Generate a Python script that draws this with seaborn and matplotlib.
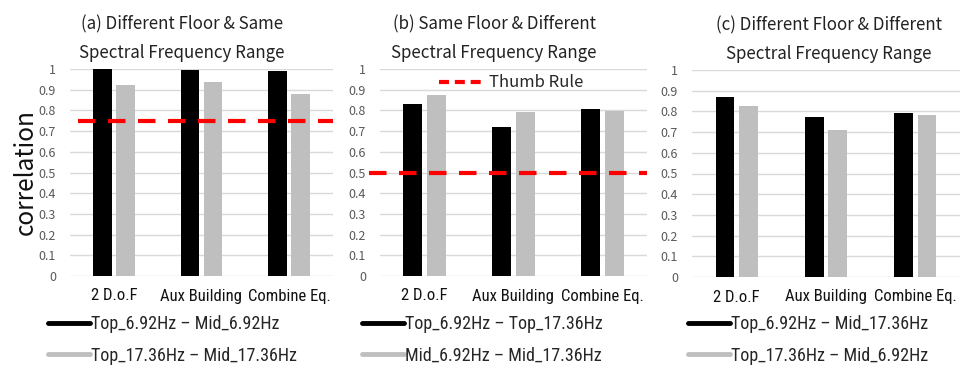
import matplotlib
matplotlib.use("Agg")
import matplotlib.pyplot as plt
import pandas as pd
import seaborn as sns
from matplotlib.lines import Line2D
from matplotlib import font_manager

# ---- data -------------------------------------------------------------
categories = ["2 D.o.F", "Aux Building", "Combine Eq."]

titles = [
    "(a) Different Floor & Same\nSpectral Frequency Range",
    "(b) Same Floor & Different\nSpectral Frequency Range",
    "(c) Different Floor & Different\nSpectral Frequency Range",
]

a_pair1 = [1.000, 0.997, 0.992]
a_pair2 = [0.923, 0.937, 0.881]
b_pair1 = [0.831, 0.720, 0.807]
b_pair2 = [0.876, 0.791, 0.799]
c_pair1 = [0.871, 0.771, 0.790]
c_pair2 = [0.826, 0.710, 0.781]

a_labels = ["Top_6.92Hz – Mid_6.92Hz", "Top_17.36Hz – Mid_17.36Hz"]
b_labels = ["Top_6.92Hz – Top_17.36Hz", "Mid_6.92Hz – Mid_17.36Hz"]
c_labels = ["Top_6.92Hz – Mid_17.36Hz", "Top_17.36Hz – Mid_6.92Hz"]

thumb_rules = [0.75, 0.5, None]
y_ticks = [0, 0.1, 0.2, 0.3, 0.4, 0.5, 0.6, 0.7, 0.8, 0.9, 1]
y_tick_labels = ["0", "0.1", "0.2", "0.3", "0.4", "0.5", "0.6", "0.7", "0.8", "0.9", "1"]
y_label = "correlation"
rule_label = "Thumb Rule"

# ---- styling ----------------------------------------------------------
sns.set_theme(style="white")
plt.rcParams["font.family"] = ["Noto Sans CJK KR", "DejaVu Sans"]

names = {f.name for f in font_manager.fontManager.ttflist}
NARROW = ["Liberation Sans Narrow", "DejaVu Sans"] if "Liberation Sans Narrow" in names \
    else ["Roboto Condensed", "DejaVu Sans"] if "Roboto Condensed" in names \
    else ["Noto Sans CJK KR", "DejaVu Sans"]

BLACK = "#000000"
GRAY = "#bfbfbf"
GRID = "#d9d9d9"
TICK = "#595959"
RED = "#ff0000"

W, H = 971, 365
fig = plt.figure(figsize=(W / 100, H / 100), dpi=100)

# axes boxes in pixels: left, right, top(value 1), bottom(value 0)
boxes = [(70, 333, 69, 276), (380, 647, 69, 276), (692, 960, 70, 277)]
title_x = [0.426, 0.427, 0.511]
legend_x = [48, 362, 688]

panels = [
    (a_pair1, a_pair2, a_labels),
    (b_pair1, b_pair2, b_labels),
    (c_pair1, c_pair2, c_labels),
]

for i, ((p1, p2, labels), (l, r, t, b)) in enumerate(zip(panels, boxes)):
    ax = fig.add_axes([l / W, 1 - b / H, (r - l) / W, (b - t) / H])
    df = pd.DataFrame({
        "category": categories * 2,
        "value": p1 + p2,
        "pair": [labels[0]] * 3 + [labels[1]] * 3,
    })
    sns.barplot(data=df, x="category", y="value", hue="pair",
                hue_order=labels, order=categories,
                palette=[BLACK, GRAY], width=0.525, gap=0.2,
                saturation=1, ax=ax, legend=False, errorbar=None)
    for patch in ax.patches:
        patch.set_clip_on(False)
        patch.set_linewidth(0)

    ax.set_xlim(-0.5, 2.5)
    ax.set_ylim(0, 1)
    ax.set_yticks(y_ticks)
    ax.set_yticklabels(y_tick_labels)
    ax.tick_params(axis="y", length=0, pad=10, labelsize=9, labelcolor=TICK)
    ax.tick_params(axis="x", length=0, pad=9, labelsize=12, labelcolor="#111111")
    for lab in ax.get_xticklabels():
        lab.set_family(NARROW)
    ax.grid(axis="y", color=GRID, linewidth=1.0)
    ax.set_axisbelow(True)
    for s in ax.spines.values():
        s.set_visible(False)
    ax.set_xlabel("")
    ax.set_ylabel("")

    ax.set_title(titles[i], x=title_x[i], fontsize=12.2, color="#222222",
                 linespacing=1.75, pad=8)

    rule = thumb_rules[i]
    if rule is not None:
        ax.axhline(rule, color=RED, linewidth=3, dashes=(4.2, 3.0),
                   xmin=0.03 if i == 0 else -0.04, xmax=1.0, clip_on=False)

    if i == 1:
        rh = Line2D([], [], color=RED, linewidth=3, dashes=(2.4, 1.4))
        ax.legend(handles=[rh], labels=[rule_label], loc="upper center",
                  bbox_to_anchor=(0.49, 1.03), frameon=False, fontsize=12,
                  handlelength=2.6, handletextpad=0.4, borderpad=0.2)

    if i == 0:
        ax.set_ylabel(y_label, fontsize=17.5, color="#111111", labelpad=0)

    handles = [Line2D([], [], color=BLACK, linewidth=3.5),
               Line2D([], [], color=GRAY, linewidth=3.5)]
    fig.legend(handles=handles, labels=labels, loc="upper left",
               bbox_to_anchor=(legend_x[i] / W, 1 - 315 / H),
               frameon=False, prop={"family": NARROW, "size": 13},
               handlelength=2.3, handletextpad=0.1, labelspacing=0.75,
               borderpad=0, borderaxespad=0)

fig.savefig("out.png", dpi=100, facecolor="white")
